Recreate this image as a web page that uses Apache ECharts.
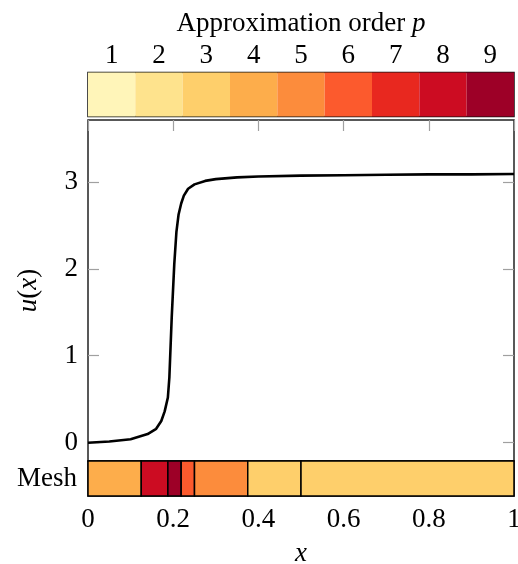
<!DOCTYPE html>
<html>
<head>
<meta charset="utf-8">
<script src="https://cdn.jsdelivr.net/npm/echarts@6/dist/echarts.min.js"></script>
<style>
  html, body { margin: 0; padding: 0; background: #fff; }
  #chart { width: 518px; height: 564px; }
</style>
</head>
<body>
<div id="chart"></div>
<script>
// Solution u(x) sampled along the domain
const xVals = [0, 0.05, 0.1, 0.14, 0.16, 0.172, 0.18, 0.1875, 0.191, 0.1966, 0.2025, 0.2075, 0.2125, 0.21875, 0.225, 0.235, 0.25, 0.275, 0.3, 0.35, 0.4, 0.5, 0.6, 0.7, 0.8, 0.9, 1];
const uVals = [0, 0.015, 0.04, 0.10, 0.16, 0.25, 0.36, 0.52, 0.75, 1.45, 2.05, 2.42, 2.62, 2.75, 2.84, 2.92, 2.97, 3.01, 3.03, 3.05, 3.06, 3.07, 3.075, 3.08, 3.085, 3.085, 3.09];

// Mesh elements: left edges, right edges and polynomial order of each
const meshLeft  = [0, 0.125, 0.1875, 0.21875, 0.25, 0.375, 0.5];
const meshRight = [0.125, 0.1875, 0.21875, 0.25, 0.375, 0.5, 1];
const meshOrder = [4, 8, 9, 6, 5, 3, 3];

// Colour scale for approximation order
const orderLabels = ['1', '2', '3', '4', '5', '6', '7', '8', '9'];
const orderColors = ['#fff5b9', '#fee38d', '#fecf6b', '#fdad4b', '#fc8c3c', '#fc5a2d', '#e8281f', '#cc0c22', '#9d0027'];

// Axis ticks
const yTicks = [0, 1, 2, 3];

const FONT = 'Liberation Serif';
const FS = 27;
const tickStyle = { show: true, inside: true, length: 11, lineStyle: { color: '#a0a0a0', width: 1.2 } };
const italicRich = { i: { fontFamily: FONT, fontSize: FS, fontStyle: 'italic', color: '#000' } };

const chart = echarts.init(document.getElementById('chart'), null, { renderer: 'canvas' });

const curve = xVals.map((x, i) => [x, uVals[i]]);
const meshData = meshLeft.map((l, i) => [l, meshRight[i], meshOrder[i]]);

const gridBase = { show: true, backgroundColor: 'transparent', outerBoundsMode: 'none', containLabel: false };

chart.setOption({
  animation: false,
  textStyle: { fontFamily: FONT, color: '#000' },
  grid: [
    Object.assign({ left: 88, top: 72.5, width: 426, height: 44, borderColor: '#111', borderWidth: 1.5 }, gridBase),
    Object.assign({ left: 88, top: 120, width: 426, height: 341, borderColor: '#222', borderWidth: 1.5 }, gridBase),
    Object.assign({ left: 88, top: 461, width: 426, height: 35, borderColor: '#111', borderWidth: 1.5 }, gridBase)
  ],
  xAxis: [
    {
      gridIndex: 0, type: 'category', position: 'top', data: orderLabels,
      axisLine: { show: false }, axisTick: { show: false },
      axisLabel: { fontFamily: FONT, fontSize: FS, color: '#000', margin: 3 },
      name: 'Approximation order {i|p}', nameLocation: 'middle', nameGap: 35,
      nameTextStyle: { fontFamily: FONT, fontSize: FS, color: '#000', rich: italicRich }
    },
    {
      gridIndex: 1, type: 'value', position: 'top', min: 0, max: 1, interval: 0.2,
      axisLine: { show: false, onZero: false }, axisTick: tickStyle, axisLabel: { show: false }, splitLine: { show: false }
    },
    {
      gridIndex: 2, type: 'value', position: 'bottom', min: 0, max: 1, interval: 0.2,
      axisLine: { show: false, onZero: false }, axisTick: { show: false }, splitLine: { show: false },
      axisLabel: { fontFamily: FONT, fontSize: FS, color: '#000', margin: 10, formatter: v => String(+v.toFixed(1)) },
      name: 'x', nameLocation: 'middle', nameGap: 44,
      nameTextStyle: { fontFamily: FONT, fontSize: FS, fontStyle: 'italic', color: '#000' }
    }
  ],
  yAxis: [
    {
      gridIndex: 0, type: 'value', min: 0, max: 1, show: false
    },
    {
      gridIndex: 1, type: 'value', min: -0.21, max: 3.71, position: 'left',
      axisLine: { show: false, onZero: false }, splitLine: { show: false },
      axisTick: Object.assign({ customValues: yTicks }, tickStyle),
      axisLabel: { customValues: yTicks, fontFamily: FONT, fontSize: FS, color: '#000', margin: 10 },
      name: '{i|u}({i|x})', nameLocation: 'middle', nameGap: 46, nameRotate: 90,
      nameTextStyle: { fontFamily: FONT, fontSize: FS, color: '#000', rich: italicRich }
    },
    {
      gridIndex: 1, type: 'value', min: -0.21, max: 3.71, position: 'right',
      axisLine: { show: false, onZero: false }, splitLine: { show: false },
      axisTick: Object.assign({ customValues: yTicks }, tickStyle),
      axisLabel: { show: false }
    },
    {
      gridIndex: 2, type: 'category', data: ['Mesh'],
      axisLine: { show: false, onZero: false }, axisTick: { show: false },
      axisLabel: { fontFamily: FONT, fontSize: FS, color: '#000', margin: 11 }
    }
  ],
  series: [
    {
      type: 'bar', xAxisIndex: 0, yAxisIndex: 0,
      barWidth: '100%', barCategoryGap: 0,
      data: orderColors.map(c => ({ value: 1, itemStyle: { color: c } })),
      silent: true
    },
    {
      type: 'line', xAxisIndex: 1, yAxisIndex: 1,
      data: curve, showSymbol: false, smooth: false,
      lineStyle: { color: '#000', width: 2.6 }, silent: true
    },
    {
      type: 'custom', xAxisIndex: 2, yAxisIndex: 3,
      data: meshData,
      renderItem: function (params, api) {
        const p0 = api.coord([api.value(0), 0]);
        const p1 = api.coord([api.value(1), 0]);
        const h = api.size([0, 1])[1];
        return {
          type: 'rect',
          shape: { x: p0[0], y: p0[1] - h / 2, width: p1[0] - p0[0], height: h },
          style: { fill: orderColors[api.value(2) - 1], stroke: '#000', lineWidth: 1.5 }
        };
      },
      silent: true
    }
  ]
});
</script>
</body>
</html>
